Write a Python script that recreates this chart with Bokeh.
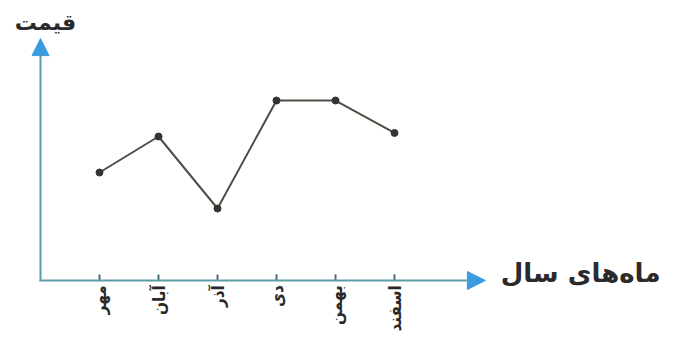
from math import pi
from bokeh.plotting import figure
from bokeh.models import Range1d, Arrow, NormalHead, Label, ColumnDataSource
from bokeh.core.properties import value
from bokeh.embed import file_html
from bokeh.resources import INLINE

months = ["مهر", "آبان", "آذر", "دی", "بهمن", "اسفند"]
month_pos = [1, 2, 3, 4, 5, 6]
price = [3.0, 4.0, 2.0, 5.0, 5.0, 4.1]
y_title = "قیمت"
x_title = "ماه‌های سال"

axis_col = "#5c9ea6"
head_col = "#3a9be0"
tick_col = "#4a6f74"
text_col = "#2a2a2a"
font = "DejaVu Sans"
tick_font = "DejaVu Sans Condensed"

p = figure(width=668, height=333, output_backend="svg", toolbar_location=None,
           x_range=Range1d(-0.678, 10.644), y_range=Range1d(-1.472, 7.778),
           min_border=0)
p.outline_line_color = None
p.grid.visible = False
p.xaxis.visible = False
p.yaxis.visible = False

# axes drawn as arrows
p.add_layout(Arrow(x_start=-0.02, y_start=0, x_end=7.54, y_end=0,
                   line_color=axis_col, line_width=2,
                   end=NormalHead(size=18, fill_color=head_col, line_color=head_col)))
p.add_layout(Arrow(x_start=0, y_start=0, x_end=0, y_end=6.72,
                   line_color=axis_col, line_width=2,
                   end=NormalHead(size=17, fill_color=head_col, line_color=head_col)))

# ticks (pointing up from the axis) and month labels
ticks = ColumnDataSource(dict(x=month_pos, y0=[0] * len(month_pos),
                              y1=[0.17] * len(month_pos),
                              ly=[-0.13] * len(month_pos), text=months))
p.segment(x0="x", y0="y0", x1="x", y1="y1", source=ticks,
          line_color=tick_col, line_width=2)
p.text(x="x", y="ly", text="text", source=ticks, angle=pi / 2,
       text_align="right", text_baseline="middle",
       text_font=value(tick_font), text_font_size="17px", text_font_style="bold",
       text_color=text_col)

# data
p.line(month_pos, price, line_color="#4e4e42", line_width=2)
p.scatter(month_pos, price, size=7, fill_color="#333333", line_color="#333333")

p.add_layout(Label(x=0.085, y=7.17, text=y_title, text_font=font, text_font_size="22px",
                   text_font_style="bold", text_color=text_col,
                   text_align="center", text_baseline="middle"))
p.add_layout(Label(x=7.8, y=0.22, text=x_title, text_font=font, text_font_size="26px",
                   text_font_style="bold", text_color=text_col,
                   text_align="left", text_baseline="middle"))

open("out.html", "w").write(file_html(p, INLINE))
